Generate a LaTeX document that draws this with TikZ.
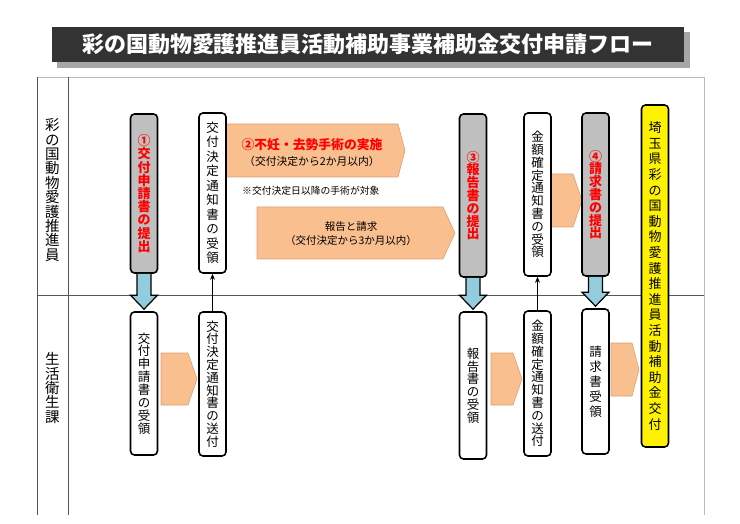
\documentclass[tikz,border=0pt]{standalone}
\usepackage{fontspec}
\setmainfont{Noto Sans CJK JP}
\usetikzlibrary{arrows.meta,calc}
\definecolor{titlebg}{HTML}{333333}
\definecolor{shadowc}{HTML}{A6A6A6}
\definecolor{boxgray}{HTML}{BFBFBF}
\definecolor{pentfill}{HTML}{FABF8F}
\definecolor{pentdraw}{HTML}{D8A27A}
\definecolor{arrowblue}{HTML}{93CDDD}
\definecolor{framedark}{HTML}{555555}
\definecolor{framelight}{HTML}{BBBBBB}
\definecolor{jred}{HTML}{FF0000}
\makeatletter
\newcommand\vt[2]{\vbox{\baselineskip=#1\lineskiplimit=-20pt\lineskip=0pt\@tfor\vt@c:=#2\do{\hbox to 1.1em{\hss\vt@c\hss}}}}
\makeatother
\newcommand\pentagon[5]{\filldraw[pent] (#1,#2) -- (#3,#2) -- (#4,{(#2+#5)/2}) -- (#3,#5) -- (#1,#5) -- cycle;}
\newcommand\bluedown[2]{\draw[blockarrow] ($(#1.south)+(-7,0)$) -- ($(#2.north)+(-7,-16)$) -- ($(#2.north)+(-13.5,-16)$) -- ($(#2.north)+(0,-2)$) -- ($(#2.north)+(13.5,-16)$) -- ($(#2.north)+(7,-16)$) -- ($(#1.south)+(7,0)$);}
\begin{document}
\begin{tikzpicture}[x=1pt,y=-1pt,
  flowbox/.style={draw=black,line width=1.6pt,rounded corners=4pt,inner sep=0pt,minimum width=27pt},
  graybox/.style={flowbox,fill=boxgray,text=jred,font=\fontsize{13}{13}\bfseries},
  whitebox/.style={flowbox,fill=white,font=\fontsize{12.5}{13}\selectfont},
  yellowbox/.style={flowbox,fill=yellow,font=\fontsize{13}{13}\selectfont},
  pent/.style={fill=pentfill,draw=pentdraw,line width=0.6pt},
  blockarrow/.style={fill=arrowblue,draw=black,line width=1.2pt,line join=miter},
  thinarrow/.style={draw=black,line width=1.3pt,-{Stealth[length=6pt,width=5pt]}},
  frameline/.style={draw=framedark,line width=0.8pt},
  lane/.style={font=\fontsize{14.5}{15}\selectfont},
]
\useasboundingbox[fill=white] (0,0) rectangle (740,524);
% title
\fill[shadowc] (57,32) rectangle (690,68);
\node[fill=titlebg, minimum width=632pt, minimum height=35pt, inner sep=0pt, text=white, font=\fontsize{22}{23}\bfseries] (title) at (368,44.5) {彩の国動物愛護推進員活動補助事業補助金交付申請フロー};
% frame
\draw[draw=framelight, line width=0.8pt] (37,77) -- (704,77);
\draw[draw=framelight, line width=0.8pt] (704,77) -- (704,515);
\draw[frameline] (37,77) -- (37,515);
\draw[frameline] (68,77) -- (68,515);
\draw[frameline] (37,295) -- (704,295);
% lane labels
\node[lane] (laneA) at (52.5,190) {\vt{14.4pt}{彩の国動物愛護推進員}};
\node[lane] (laneB) at (52.5,388) {\vt{14.3pt}{生活衛生課}};
% pentagons
\pentagon{226}{124}{398}{405}{177}
\pentagon{257}{207}{443}{455}{259}
\pentagon{551}{174}{573}{582}{227}
\pentagon{161}{353}{188}{197}{405}
\pentagon{491}{353}{513}{522}{405}
\pentagon{611}{343}{632}{639}{396}
\node[text=jred, font=\fontsize{12.8}{13}\bfseries] (t2a) at (312,145) {②不妊・去勢手術の実施};
\node[font=\fontsize{10.8}{11}\selectfont] (t2b) at (312,161) {（交付決定から2か月以内）};
\node[font=\fontsize{9.8}{10}\selectfont, anchor=west, inner sep=0pt] (note) at (242,191) {※交付決定日以降の手術が対象};
\node[font=\fontsize{10.5}{11}\selectfont] (t5a) at (351,227) {報告と請求};
\node[font=\fontsize{10.5}{11}\selectfont] (t5b) at (351,241) {（交付決定から3か月以内）};
% upper lane boxes
\node[graybox, minimum height=159pt] (g1) at (144,193.5) {\vt{13.2pt}{①交付申請書の提出}};
\node[whitebox, minimum height=160pt] (u2) at (212.5,193) {\vt{14.5pt}{交付決定通知書の受領}};
\node[graybox, minimum height=163pt] (g3) at (473,195.5) {\vt{12.8pt}{③報告書の提出}};
\node[whitebox, minimum height=163pt] (u4) at (537.5,194.5) {\vt{12.8pt}{金額確定通知書の受領}};
\node[graybox, minimum height=163pt] (g5) at (595.5,194.5) {\vt{12.8pt}{④請求書の提出}};
\node[yellowbox, minimum height=342pt] (yel) at (655,276) {\vt{15.6pt}{埼玉県彩の国動物愛護推進員活動補助金交付}};
% lower lane boxes
\node[whitebox, minimum height=143pt] (l1) at (144,383.5) {\vt{12.9pt}{交付申請書の受領}};
\node[whitebox, minimum height=144pt] (l2) at (212.5,384) {\vt{12.8pt}{交付決定通知書の送付}};
\node[whitebox, minimum height=147pt] (l3) at (473,385.5) {\vt{12.8pt}{報告書の受領}};
\node[whitebox, minimum height=145pt] (l4) at (537.5,383.5) {\vt{12.8pt}{金額確定通知書の送付}};
\node[whitebox, minimum height=145pt] (l5) at (595.5,381.5) {\vt{15pt}{請求書受領}};
% arrows
\bluedown{g1}{l1}
\bluedown{g3}{l3}
\bluedown{g5}{l5}
\draw[thinarrow] (l2.north) -- (u2.south);
\draw[thinarrow] (l4.north) -- (u4.south);
\end{tikzpicture}
\end{document}
